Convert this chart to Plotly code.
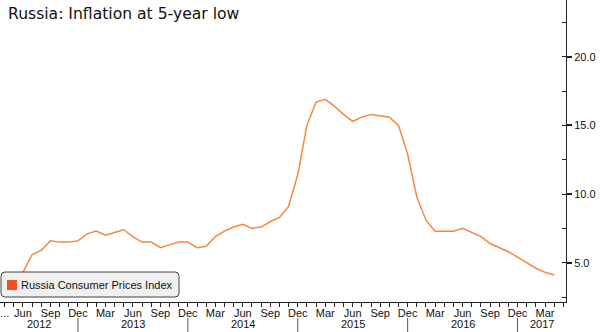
import plotly.graph_objects as go

# ---- data ----
months = [
    "2012-04", "2012-05", "2012-06", "2012-07", "2012-08", "2012-09", "2012-10", "2012-11", "2012-12",
    "2013-01", "2013-02", "2013-03", "2013-04", "2013-05", "2013-06", "2013-07", "2013-08", "2013-09", "2013-10", "2013-11", "2013-12",
    "2014-01", "2014-02", "2014-03", "2014-04", "2014-05", "2014-06", "2014-07", "2014-08", "2014-09", "2014-10", "2014-11", "2014-12",
    "2015-01", "2015-02", "2015-03", "2015-04", "2015-05", "2015-06", "2015-07", "2015-08", "2015-09", "2015-10", "2015-11", "2015-12",
    "2016-01", "2016-02", "2016-03", "2016-04", "2016-05", "2016-06", "2016-07", "2016-08", "2016-09", "2016-10", "2016-11", "2016-12",
    "2017-01", "2017-02", "2017-03", "2017-04",
]
cpi = [
    3.6, 3.6, 4.3, 5.6, 5.9, 6.6, 6.5, 6.5, 6.6,
    7.1, 7.3, 7.0, 7.2, 7.4, 6.9, 6.5, 6.5, 6.1, 6.3, 6.5, 6.5,
    6.1, 6.2, 6.9, 7.3, 7.6, 7.8, 7.5, 7.6, 8.0, 8.3, 9.1, 11.4,
    15.0, 16.7, 16.9, 16.4, 15.8, 15.3, 15.6, 15.8, 15.7, 15.6, 15.0, 12.9,
    9.8, 8.1, 7.3, 7.3, 7.3, 7.5, 7.2, 6.9, 6.4, 6.1, 5.8, 5.4,
    5.0, 4.6, 4.3, 4.1,
]
tick_months = ["2012-04", "2012-06", "2012-09", "2012-12", "2013-03", "2013-06", "2013-09", "2013-12",
               "2014-03", "2014-06", "2014-09", "2014-12", "2015-03", "2015-06", "2015-09", "2015-12",
               "2016-03", "2016-06", "2016-09", "2016-12", "2017-03"]
tick_labels = ["...", "Jun", "Sep", "Dec", "Mar", "Jun", "Sep", "Dec", "Mar", "Jun", "Sep", "Dec",
               "Mar", "Jun", "Sep", "Dec", "Mar", "Jun", "Sep", "Dec", "Mar"]
years = ["2012", "2013", "2014", "2015", "2016", "2017"]
y_ticks = [5, 10, 15, 20]

title = "Russia: Inflation at 5-year low"
series_name = "Russia Consumer Prices Index"


def midx(m):
    y, mo = m.split("-")
    return (int(y) - 2012) * 12 + int(mo) - 1


x = [midx(m) for m in months]
X_RANGE = [2.49, 64.29]
Y_RANGE = [2.14, 24.13]

FONT = "Liberation Sans"
TITLE_FONT = "DejaVu Sans"
LINE_COL = "#f5883c"
AX_COL = "#222222"

fig = go.Figure()
fig.add_trace(go.Scatter(x=x, y=cpi, mode="lines", name=series_name,
                         line=dict(color=LINE_COL, width=1.5), showlegend=False))

W, H = 600, 332
ML, MR, MT, MB = 0, 34, 0, 30
PW, PH = W - ML - MR, H - MT - MB


def px(v):
    return v / PW


def py(v):
    return (PH - v) / PH


fig.update_layout(
    width=W, height=H,
    margin=dict(l=ML, r=MR, t=MT, b=MB),
    paper_bgcolor="white", plot_bgcolor="white",
    font=dict(family=FONT, size=11, color="#111111"),
    showlegend=False,
    xaxis=dict(
        range=X_RANGE, showgrid=False, zeroline=False,
        showline=True, linecolor=AX_COL, linewidth=1,
        tickvals=[midx(m) for m in tick_months], ticktext=tick_labels,
        ticks="outside", ticklen=4, tickcolor=AX_COL, tickwidth=1,
        ticklabelstandoff=-3,
        minor=dict(dtick=1, tick0=0, ticks="outside", ticklen=4, tickcolor=AX_COL, tickwidth=1),
        tickfont=dict(family=FONT, size=11, color="#111111"),
    ),
    yaxis=dict(
        range=Y_RANGE, side="right", showgrid=False, zeroline=False,
        showline=True, linecolor=AX_COL, linewidth=1,
        tickvals=y_ticks, tickformat=".1f",
        ticks="outside", ticklen=5, tickwidth=2, tickcolor=AX_COL,
        minor=dict(dtick=2.5, tick0=0, ticks="inside", ticklen=4, tickcolor=AX_COL, tickwidth=1),
        tickfont=dict(family=FONT, size=11, color="#111111"),
    ),
)

# title
fig.add_annotation(text=title, xref="paper", yref="paper", x=px(6), y=py(3),
                   xanchor="left", yanchor="top", showarrow=False,
                   font=dict(family=TITLE_FONT, size=15.6, color="#111111"))

# year separators and labels
for i, yr in enumerate(years):
    dec = (int(yr) - 2012) * 12 + 11
    start = max(dec - 12, X_RANGE[0])
    end = min(dec, X_RANGE[1])
    if dec < X_RANGE[1]:
        fig.add_shape(type="line", xref="x", yref="paper", x0=dec, x1=dec,
                      y0=py(318), y1=py(332), line=dict(color="#555555", width=1))
    fig.add_annotation(text=yr, xref="x", yref="paper", x=(start + end) / 2, y=py(324),
                       xanchor="center", yanchor="middle", showarrow=False,
                       font=dict(family=FONT, size=11, color="#111111"))

# legend box (rounded)
x0, x1, y0, y1, r = 1, 179, 272, 297, 4
path = (f"M {px(x0 + r)} {py(y0)} L {px(x1 - r)} {py(y0)} "
        f"Q {px(x1)} {py(y0)} {px(x1)} {py(y0 + r)} L {px(x1)} {py(y1 - r)} "
        f"Q {px(x1)} {py(y1)} {px(x1 - r)} {py(y1)} L {px(x0 + r)} {py(y1)} "
        f"Q {px(x0)} {py(y1)} {px(x0)} {py(y1 - r)} L {px(x0)} {py(y0 + r)} "
        f"Q {px(x0)} {py(y0)} {px(x0 + r)} {py(y0)} Z")
fig.add_shape(type="path", path=path, xref="paper", yref="paper",
              fillcolor="#f0f0f0", line=dict(color="#444444", width=1), layer="above")
fig.add_shape(type="rect", xref="paper", yref="paper", x0=px(7), x1=px(17), y0=py(280), y1=py(290),
              fillcolor="#f4511e", line=dict(width=0), layer="above")
fig.add_annotation(text=series_name, xref="paper", yref="paper", x=px(19), y=py(285),
                   xanchor="left", yanchor="middle", showarrow=False,
                   font=dict(family=FONT, size=11, color="#111111"))

fig.write_html("out.html")
